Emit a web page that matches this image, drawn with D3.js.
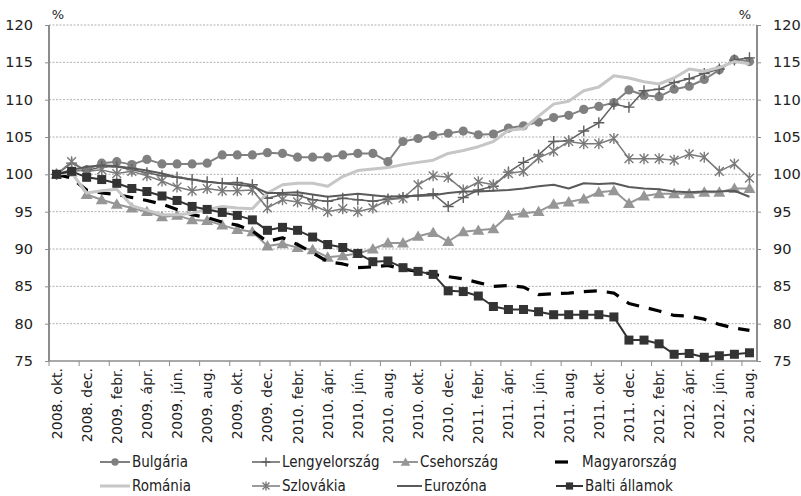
<!DOCTYPE html>
<html>
<head>
<meta charset="utf-8">
<script src="https://cdn.jsdelivr.net/npm/d3@7/dist/d3.min.js"></script>
<style>
  body { margin: 0; background: #fff; }
  svg text { font-family: "DejaVu Sans", Verdana, sans-serif; fill: #222; }
  .legend text { font-family: "DejaVu Sans Condensed", "DejaVu Sans", sans-serif; font-stretch: condensed; }
</style>
</head>
<body>
<svg id="chart" width="801" height="496"></svg>
<script>
// months, 2008 okt -> 2012 aug
const months = [
  '2008. okt.', '2008. nov.', '2008. dec.',
  '2009. jan.', '2009. febr.', '2009. márc.', '2009. ápr.', '2009. máj.', '2009. jún.',
  '2009. júl.', '2009. aug.', '2009. szept.', '2009. okt.', '2009. nov.', '2009. dec.',
  '2010. jan.', '2010. febr.', '2010. márc.', '2010. ápr.', '2010. máj.', '2010. jún.',
  '2010. júl.', '2010. aug.', '2010. szept.', '2010. okt.', '2010. nov.', '2010. dec.',
  '2011. jan.', '2011. febr.', '2011. márc.', '2011. ápr.', '2011. máj.', '2011. jún.',
  '2011. júl.', '2011. aug.', '2011. szept.', '2011. okt.', '2011. nov.', '2011. dec.',
  '2012. jan.', '2012. febr.', '2012. márc.', '2012. ápr.', '2012. máj.', '2012. jún.',
  '2012. júl.', '2012. aug.'
]
const yTicks = [75, 80, 85, 90, 95, 100, 105, 110, 115, 120]

const bulgaria = [100, 100.4, 100.6, 101.5, 101.7, 101.3, 102.0, 101.4, 101.4, 101.4, 101.5, 102.6, 102.6, 102.6, 102.9, 102.8, 102.3, 102.3, 102.3, 102.6, 102.8, 102.8, 101.7, 104.4, 104.8, 105.2, 105.5, 105.8, 105.3, 105.4, 106.2, 106.5, 107.0, 107.6, 107.9, 108.7, 109.1, 109.6, 111.3, 110.6, 110.4, 111.4, 111.8, 112.7, 114.0, 115.4, 115.1]
const lengyelorszag = [100, 101.5, 100.5, 101.0, 101.0, 100.6, 100.2, 99.8, 99.6, 99.3, 99.0, 98.8, 98.9, 98.6, 96.8, 97.3, 97.2, 96.6, 96.4, 96.8, 96.6, 96.4, 96.7, 96.9, 97.2, 97.4, 95.7, 96.9, 97.9, 98.4, 100.3, 101.6, 102.6, 104.4, 104.5, 105.8, 106.9, 109.4, 109.0, 111.2, 111.4, 112.3, 112.8, 113.5, 114.1, 115.3, 115.6]
const csehorszag = [100, 100.3, 97.3, 96.6, 96.0, 95.5, 95.0, 94.3, 94.5, 93.9, 93.8, 93.2, 92.6, 92.3, 90.4, 90.7, 90.2, 89.9, 88.9, 89.1, 89.4, 90.0, 90.8, 90.8, 91.7, 92.2, 91.0, 92.3, 92.5, 92.7, 94.5, 94.8, 95.0, 96.0, 96.3, 96.7, 97.6, 97.8, 96.1, 97.1, 97.4, 97.4, 97.4, 97.6, 97.6, 98.1, 98.1]
const magyarorszag = [100, 99.5, 97.9, 97.5, 97.3, 96.9, 96.5, 96.0, 95.3, 94.6, 94.2, 93.6, 93.2, 92.4, 91.0, 91.5, 90.6, 89.5, 88.3, 88.0, 87.5, 87.6, 87.8, 87.3, 87.0, 86.6, 86.3, 86.0, 85.5, 85.0, 85.1, 84.9, 83.9, 84.0, 84.1, 84.3, 84.4, 84.1, 82.7, 82.2, 81.7, 81.1, 81.0, 80.6, 79.9, 79.4, 79.1]
const romania = [100, 100.2, 97.5, 97.8, 98.0, 95.8, 95.2, 94.6, 94.6, 94.8, 95.3, 95.7, 95.5, 95.4, 97.5, 98.6, 98.8, 98.8, 98.4, 99.7, 100.5, 100.7, 100.9, 101.3, 101.6, 101.9, 102.8, 103.2, 103.7, 104.4, 105.9, 106.1, 107.8, 109.4, 109.8, 111.2, 111.7, 113.2, 112.9, 112.4, 112.1, 112.9, 114.1, 113.8, 114.3, 115.1, 114.8]
const szlovakia = [100, 101.7, 100.4, 100.6, 100.1, 100.4, 99.8, 99.1, 98.3, 97.8, 98.1, 97.8, 97.8, 97.9, 95.5, 96.6, 96.3, 95.9, 95.0, 95.4, 95.0, 95.5, 96.6, 96.8, 98.6, 99.8, 99.6, 97.9, 99.0, 98.6, 100.1, 100.4, 102.2, 103.1, 104.4, 104.1, 104.1, 104.8, 102.1, 102.1, 102.1, 101.9, 102.7, 102.3, 100.4, 101.4, 99.5]
const eurozona = [100, 100.6, 101.0, 101.2, 101.1, 100.8, 100.5, 100.1, 99.6, 99.3, 99.0, 98.8, 98.6, 98.4, 97.5, 97.5, 97.6, 97.3, 97.0, 97.2, 97.4, 97.2, 97.0, 97.1, 97.1, 97.2, 97.5, 97.7, 97.7, 97.8, 97.9, 98.1, 98.4, 98.6, 98.1, 98.8, 98.7, 98.8, 98.3, 98.1, 98.0, 97.7, 97.6, 97.7, 97.7, 97.8, 97.0]
const balti = [100, 100.4, 99.6, 99.3, 98.8, 98.1, 97.7, 97.1, 96.5, 95.7, 95.3, 94.9, 94.5, 93.9, 92.5, 92.9, 92.5, 91.6, 90.6, 90.2, 89.4, 88.3, 88.4, 87.5, 87.0, 86.6, 84.4, 84.3, 83.7, 82.3, 81.9, 81.9, 81.6, 81.2, 81.2, 81.2, 81.2, 80.9, 77.8, 77.8, 77.3, 75.9, 76.0, 75.5, 75.7, 75.9, 76.1]

// series in excel order, later ones on top
const series = [
  { name: 'Bulgária', values: bulgaria, color: '#808080', width: 2, marker: 'circle' },
  { name: 'Lengyelország', values: lengyelorszag, color: '#5f5f5f', width: 1.5, marker: 'plus' },
  { name: 'Csehország', values: csehorszag, color: '#969696', width: 2, marker: 'triangle' },
  { name: 'Magyarország', values: magyarorszag, color: '#000', width: 3.2, dash: '13,10' },
  { name: 'Románia', values: romania, color: '#c6c6c6', width: 3 },
  { name: 'Szlovákia', values: szlovakia, color: '#7a7a7a', width: 1.5, marker: 'star' },
  { name: 'Eurozóna', values: eurozona, color: '#5a5a5a', width: 2 },
  { name: 'Balti államok', values: balti, color: '#333', width: 2, marker: 'square' }
]

const svg = d3.select('#chart')
const box = { left: 49, right: 757, top: 25, bottom: 361 }

const x = d3.scaleBand().domain(d3.range(months.length)).range([box.left, box.right])
const cx = i => x(i) + x.bandwidth() / 2
const y = d3.scaleLinear().domain([75, 120]).range([box.bottom, box.top])

// grid
svg.append('g')
  .selectAll('line')
  .data(yTicks.filter(t => t > 75))
  .join('line')
  .attr('x1', box.left).attr('x2', box.right)
  .attr('y1', d => y(d)).attr('y2', d => y(d))
  .attr('stroke', '#b0b0b0')
  .attr('stroke-dasharray', '2,1.5')

// y axes
const yLeft = svg.append('g')
  .attr('transform', `translate(${box.left},0)`)
  .call(d3.axisLeft(y).tickValues(yTicks).tickSize(4).tickPadding(12))
const yRight = svg.append('g')
  .attr('transform', `translate(${box.right},0)`)
  .call(d3.axisRight(y).tickValues(yTicks).tickSize(4).tickPadding(12))

;[yLeft, yRight].forEach(g => {
  g.select('.domain').attr('stroke', '#8c8c8c').attr('stroke-width', 2).attr('d', `M0,${box.top}V${box.bottom}`)
  g.selectAll('.tick line').attr('stroke', '#8c8c8c')
  g.selectAll('.tick text').attr('font-size', 14.5).attr('fill', '#222')
})

// x axis
const xAxis = svg.append('g')
  .attr('transform', `translate(0,${box.bottom})`)

xAxis.append('line')
  .attr('x1', box.left).attr('x2', box.right)
  .attr('stroke', '#8c8c8c').attr('stroke-width', 1.5)

const shown = d3.range(0, months.length, 2)

xAxis.selectAll('.xt')
  .data(shown)
  .join('line')
  .attr('class', 'xt')
  .attr('x1', d => x(d)).attr('x2', d => x(d))
  .attr('y1', 0).attr('y2', 5)
  .attr('stroke', '#8c8c8c')

xAxis.selectAll('text')
  .data(shown)
  .join('text')
  .attr('transform', d => `translate(${cx(d) + 5},7) rotate(-90)`)
  .attr('text-anchor', 'end')
  .attr('font-size', 14)
  .text(d => months[d])

// percent labels
svg.append('text').attr('x', 58).attr('y', 19).attr('font-size', 13).attr('text-anchor', 'middle').text('%')
svg.append('text').attr('x', 745).attr('y', 19).attr('font-size', 13).attr('text-anchor', 'middle').text('%')

// markers
const markerPath = {
  plus: s => `M${-s},0H${s}M0,${-s}V${s}`,
  star: s => `M${-s * .8},${-s * .8}L${s * .8},${s * .8}M${-s * .8},${s * .8}L${s * .8},${-s * .8}M0,${-s}V${s}`
}

function drawMarker(g, type, color, px, py, scale) {
  if (type === 'circle') {
    g.append('circle').attr('cx', px).attr('cy', py).attr('r', 4.6 * scale).attr('fill', color)
  } else if (type === 'square') {
    const s = 4.5 * scale
    g.append('rect').attr('x', px - s).attr('y', py - s).attr('width', s * 2).attr('height', s * 2).attr('fill', color)
  } else if (type === 'triangle') {
    g.append('path')
      .attr('d', d3.symbol(d3.symbolTriangle, 62 * scale * scale)())
      .attr('transform', `translate(${px},${py + 1})`)
      .attr('fill', color)
  } else if (markerPath[type]) {
    g.append('path')
      .attr('d', markerPath[type](5.5 * scale))
      .attr('transform', `translate(${px},${py})`)
      .attr('stroke', color).attr('stroke-width', 1.4).attr('fill', 'none')
  }
}

const line = d3.line().x((d, i) => cx(i)).y(d => y(d))

const plot = svg.append('g')
series.forEach(s => {
  const g = plot.append('g')
  g.append('path')
    .attr('d', line(s.values))
    .attr('fill', 'none')
    .attr('stroke', s.color)
    .attr('stroke-width', s.width)
    .attr('stroke-dasharray', s.dash || null)
    .attr('stroke-linejoin', 'round')
  if (s.marker) s.values.forEach((v, i) => drawMarker(g, s.marker, s.color, cx(i), y(v), 1))
})

// legend
const legendPos = [
  { x: 100, y: 462, tx: 132 }, { x: 252, y: 462, tx: 282 }, { x: 393, y: 462, tx: 420 }, { x: 553, y: 462, tx: 582 },
  { x: 100, y: 486, tx: 132 }, { x: 252, y: 486, tx: 282 }, { x: 397, y: 486, tx: 424 }, { x: 556, y: 486, tx: 585 }
]

const legend = svg.append('g').attr('class', 'legend')
series.forEach((s, i) => {
  const p = legendPos[i]
  const g = legend.append('g')
  if (s.dash) {
    g.append('line').attr('x1', p.x + 2).attr('x2', p.x + 15).attr('y1', p.y).attr('y2', p.y)
      .attr('stroke', s.color).attr('stroke-width', s.width)
  } else {
    g.append('line').attr('x1', p.x).attr('x2', p.tx - 2).attr('y1', p.y).attr('y2', p.y)
      .attr('stroke', s.color).attr('stroke-width', s.width)
  }
  if (s.marker) drawMarker(g, s.marker, s.color, (p.x + p.tx - 2) / 2, p.y, 0.8)
  g.append('text')
    .attr('x', p.tx).attr('y', p.y)
    .attr('dy', '0.35em')
    .attr('font-size', 15)
    .text(s.name)
})
</script>
</body>
</html>
